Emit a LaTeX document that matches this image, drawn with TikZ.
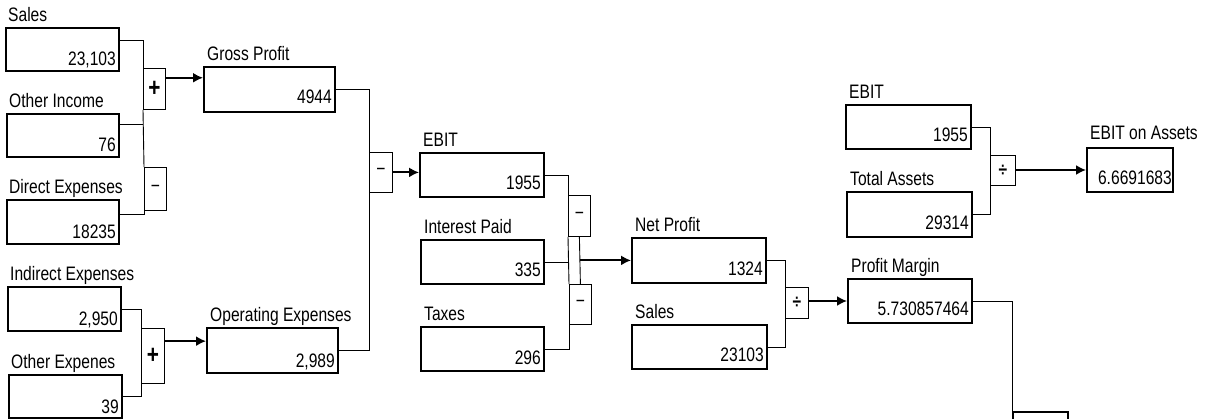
\documentclass[tikz,border=0pt]{standalone}
\usepackage{fontspec}
\setmainfont{Liberation Sans}[FakeStretch=0.8]
\usetikzlibrary{arrows.meta, positioning, calc}

\begin{document}
\begin{tikzpicture}[
  x=1pt, y=-1pt,
  font=\fontsize{19.5}{22}\selectfont,
  box/.style={rectangle, draw, line width=2pt, anchor=north west, inner sep=0pt},
  op/.style={rectangle, draw, line width=0.8pt, anchor=north west, inner sep=0pt},
  sym/.style={font=\fontsize{26}{26}\selectfont\bfseries},
  lbl/.style={inner sep=0pt, anchor=base west},
  val/.style={inner sep=0pt, anchor=base east},
  wire/.style={line width=0.9pt},
  arr/.style={-{Latex[length=10pt, width=10pt]}, line width=1.8pt},
]
\clip (0,0) rectangle (1207,419);

% === Column 1: inputs ===
\node[box, minimum width=113pt, minimum height=43pt] (sales) at (5,27) {};
\node[box, minimum width=112pt, minimum height=43pt] (oinc) at (6,113) {};
\node[box, minimum width=112pt, minimum height=44pt] (dexp) at (6,199) {};
\node[box, minimum width=113pt, minimum height=44pt] (iexp) at (7,286) {};
\node[box, minimum width=113pt, minimum height=43pt] (oexp) at (8,374) {};

\node[above right=5pt and 3pt of sales.north west, lbl] (salesL) {Sales};
\node[above right=5pt and 3pt of oinc.north west, lbl] (oincL) {Other Income};
\node[above right=5pt and 3pt of dexp.north west, lbl] (dexpL) {Direct Expenses};
\node[above right=5pt and 3pt of iexp.north west, lbl] (iexpL) {Indirect Expenses};
\node[above right=5pt and 3pt of oexp.north west, lbl] (oexpL) {Other Expenes};

\node[above left=6pt and 4pt of sales.south east, val] (salesV) {23,103};
\node[above left=6pt and 4pt of oinc.south east, val] (oincV) {76};
\node[above left=6pt and 4pt of dexp.south east, val] (dexpV) {18235};
\node[above left=6pt and 4pt of iexp.south east, val] (iexpV) {2,950};
\node[above left=6pt and 4pt of oexp.south east, val] (oexpV) {39};

% === Column 2: Gross Profit / Operating Expenses ===
\node[box, minimum width=131pt, minimum height=45pt] (gp) at (203,66) {};
\node[box, minimum width=131pt, minimum height=45pt] (opex) at (206,327) {};
\node[above right=5pt and 4pt of gp.north west, lbl] (gpL) {Gross Profit};
\node[above right=5pt and 4pt of opex.north west, lbl] (opexL) {Operating Expenses};
\node[above left=9pt and 4pt of gp.south east, val] (gpV) {4944};
\node[above left=7pt and 4pt of opex.south east, val] (opexV) {2,989};

% === Column 3: EBIT / Interest / Taxes ===
\node[box, minimum width=124pt, minimum height=44pt] (ebit) at (419,152) {};
\node[box, minimum width=123pt, minimum height=44pt] (intp) at (420,239) {};
\node[box, minimum width=123pt, minimum height=44pt] (tax) at (420,326) {};
\node[above right=5pt and 4pt of ebit.north west, lbl] (ebitL) {EBIT};
\node[above right=5pt and 4pt of intp.north west, lbl] (intpL) {Interest Paid};
\node[above right=5pt and 4pt of tax.north west, lbl] (taxL) {Taxes};
\node[above left=8pt and 4pt of ebit.south east, val] (ebitV) {1955};
\node[above left=8pt and 4pt of intp.south east, val] (intpV) {335};
\node[above left=8pt and 4pt of tax.south east, val] (taxV) {296};

% === Column 4: Net Profit / Sales ===
\node[box, minimum width=134pt, minimum height=45pt] (np) at (631,237) {};
\node[box, minimum width=135pt, minimum height=44pt] (sales2) at (631,324) {};
\node[above right=5pt and 4pt of np.north west, lbl] (npL) {Net Profit};
\node[above right=5pt and 4pt of sales2.north west, lbl] (sales2L) {Sales};
\node[above left=8pt and 4pt of np.south east, val] (npV) {1324};
\node[above left=8pt and 4pt of sales2.south east, val] (sales2V) {23103};

% === Column 5: ratios ===
\node[box, minimum width=125pt, minimum height=44pt] (ebit2) at (845,104) {};
\node[box, minimum width=125pt, minimum height=45pt] (ta) at (846,191) {};
\node[box, minimum width=124pt, minimum height=44pt] (pm) at (847,278) {};
\node[box, minimum width=86pt, minimum height=44pt] (eoa) at (1086,147) {};
\node[box, minimum width=55pt, minimum height=40pt] (nxt) at (1012,411) {};
\node[above right=5pt and 4pt of ebit2.north west, lbl] (ebit2L) {EBIT};
\node[above right=5pt and 4pt of ta.north west, lbl] (taL) {Total Assets};
\node[above right=5pt and 4pt of pm.north west, lbl] (pmL) {Profit Margin};
\node[above right=7pt and 4pt of eoa.north west, lbl] (eoaL) {EBIT on Assets};
\node[above left=8pt and 4pt of ebit2.south east, val] (ebit2V) {1955};
\node[above left=8pt and 4pt of ta.south east, val] (taV) {29314};
\node[above left=8pt and 4pt of pm.south east, val] (pmV) {5.730857464};
\node[above left=8pt and 2pt of eoa.south east, val] (eoaV) {6.6691683};

% === Operators ===
\node[op, sym, minimum width=22pt, minimum height=41pt] (plus1) at (143,68) {+};
\node[op, minimum width=22pt, minimum height=43pt] (minus1) at (144,167) {−};
\node[op, sym, minimum width=23pt, minimum height=55pt] (plus2) at (141,328) {+};
\node[op, minimum width=23pt, minimum height=40pt] (minus2) at (369,152) {−};
\node[op, minimum width=22pt, minimum height=41pt] (minus3) at (568,195) {−};
\node[op, minimum width=22pt, minimum height=40pt] (minus4) at (569,284) {−};
\node[op, minimum width=23pt, minimum height=31pt] (div1) at (785,287) {\textbf{÷}};
\node[op, minimum width=25pt, minimum height=30pt] (div2) at (990,155) {\textbf{÷}};

% === Wires ===
\draw[wire] (sales.9) -| (plus1.north west);
\draw[wire] (oinc.11) -- (oinc.11 -| plus1.west);
\draw[wire] (plus1.south west) -- (minus1.north west);
\draw[wire] (dexp.8) -| (minus1.south west);

\draw[wire] (iexp.east) -| (plus2.north west);
\draw[wire] (oexp.east) -| (plus2.south west);

\draw[wire] (gp.east) -| (minus2.north west);
\draw[wire] (opex.east) -| (minus2.south west);

\draw[wire] (ebit.east) -| (minus3.north west);
\draw[wire] (intp.east) -- (intp.east -| minus3.west);
\draw[wire] (minus3.south west) -- (minus4.north west);
\draw[wire] (tax.east) -| (minus4.south west);
\draw[wire] (minus3.south) -- (minus4.north);

\draw[wire] (np.east) -| (div1.north west);
\draw[wire] (sales2.east) -| (div1.south west);

\draw[wire] (ebit2.east) -| (div2.north west);
\draw[wire] (ta.east) -| (div2.south west);

\draw[wire] (pm.east) -| (nxt.north west);

% === Arrows ===
\coordinate (j1) at ($(minus3.south)!0.5!(minus4.north)$);
\draw[arr] (plus1.east |- gp.170) -- (gp.170);
\draw[arr] (plus2.east |- opex.172) -- (opex.172);
\draw[arr] (minus2.east) -- (minus2.east -| ebit.west);
\draw[arr] (j1) -- (j1 -| np.west);
\draw[arr] (pm.west -| div1.east) -- (pm.west);
\draw[arr] (eoa.west -| div2.east) -- (eoa.west);
\end{tikzpicture}
\end{document}
